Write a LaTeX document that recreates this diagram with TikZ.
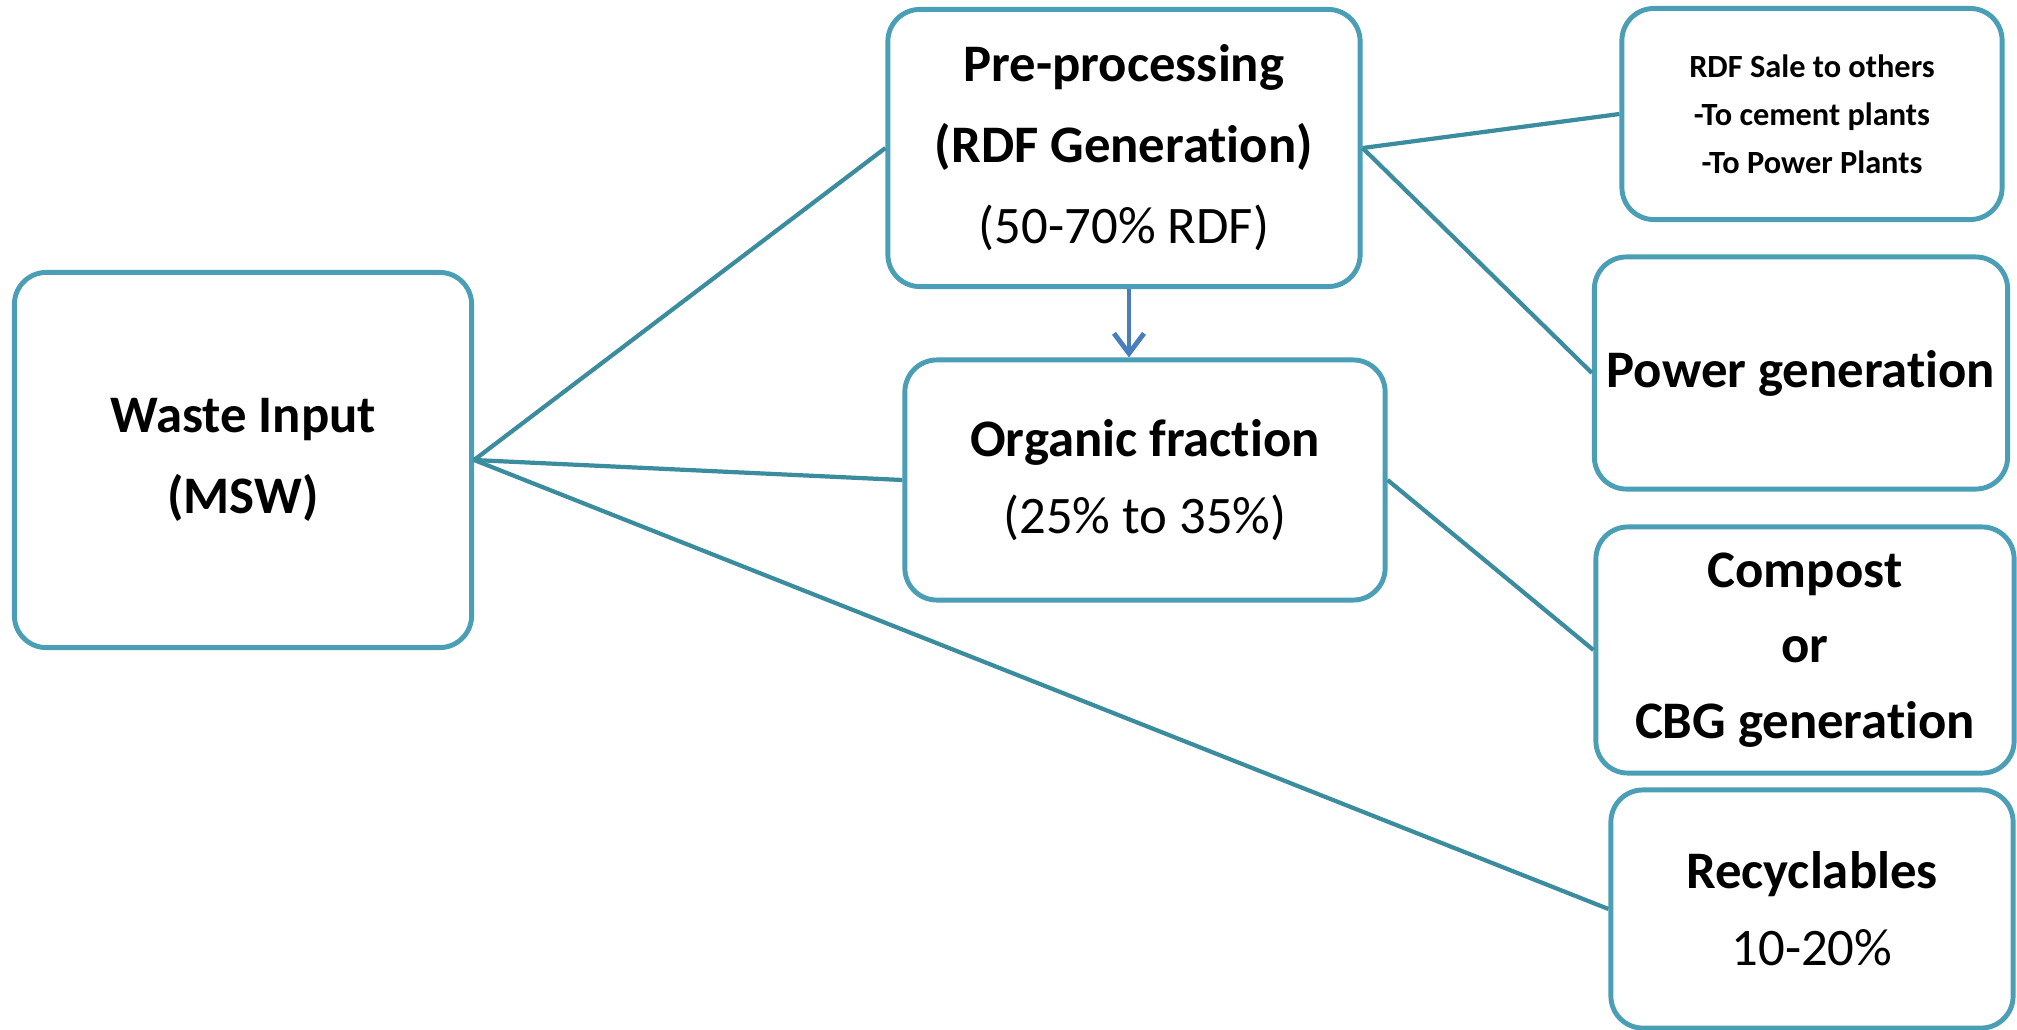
\documentclass[tikz,border=0pt]{standalone}
\usepackage{fontspec}
\setmainfont{Carlito}[Ligatures=NoCommon]
\usepackage{tikz}
\usetikzlibrary{arrows.meta,positioning,calc}
\definecolor{BoxTeal}{HTML}{4A9EB6}
\definecolor{LinkTeal}{HTML}{3B8C9F}
\definecolor{ArrowBlue}{HTML}{4A7DBD}

\begin{document}
\begin{tikzpicture}[x=0.01cm,y=-0.01cm,
  box/.style={draw=BoxTeal,line width=1.4pt,rounded corners=0.32cm,align=center,fill=white,inner sep=0pt,font=\fontsize{15}{23}\selectfont},
  link/.style={draw=LinkTeal,line width=1.2pt}]
\useasboundingbox (0,0) rectangle (2017,1030);
% boxes
\node[box,minimum width=4.57cm,minimum height=3.75cm] (waste) at (243,460) {\textbf{Waste Input}\\\textbf{(MSW)}};
\node[box,minimum width=4.72cm,minimum height=2.77cm] (pre) at (1124,148) {\textbf{Pre-processing}\\\textbf{(RDF Generation)}\\(50-70\% RDF)};
\node[box,minimum width=4.80cm,minimum height=2.40cm,font=\fontsize{15}{22}\selectfont] (organic) at (1145,480) {\textbf{Organic fraction}\\(25\% to 35\%)};
\node[box,minimum width=3.80cm,minimum height=2.11cm,font=\fontsize{9.2}{13.6}\selectfont] (sale) at (1812,114) {\textbf{RDF Sale to others}\\\textbf{-To cement plants}\\\textbf{-To Power Plants}};
\node[box,minimum width=4.13cm,minimum height=2.32cm] (power) at (1801,373) {\textbf{Power generation}};
\node[box,minimum width=4.18cm,minimum height=2.46cm,font=\fontsize{15}{21.5}\selectfont] (compost) at (1805,650) {\textbf{Compost}\\\textbf{or}\\\textbf{CBG generation}};
\node[box,minimum width=4.02cm,minimum height=2.38cm,font=\fontsize{15}{22}\selectfont] (recyc) at (1812,909) {\textbf{Recyclables}\\10-20\%};
% connectors
\draw[link] (waste.east) -- (pre.west);
\draw[link] (waste.east) -- (organic.west);
\draw[link] (waste.east) -- (recyc.west);
\draw[link] (pre.east) -- (sale.west);
\draw[link] (pre.east) -- (power.west);
\draw[link] (organic.east) -- (compost.west);
\draw[ArrowBlue,line width=1.4pt,-{Straight Barb[length=0.2cm,width=0.3cm]}] ([xshift=0.05cm]pre.south) -- ([xshift=0.05cm]pre.south |- organic.north);
\end{tikzpicture}
\end{document}
